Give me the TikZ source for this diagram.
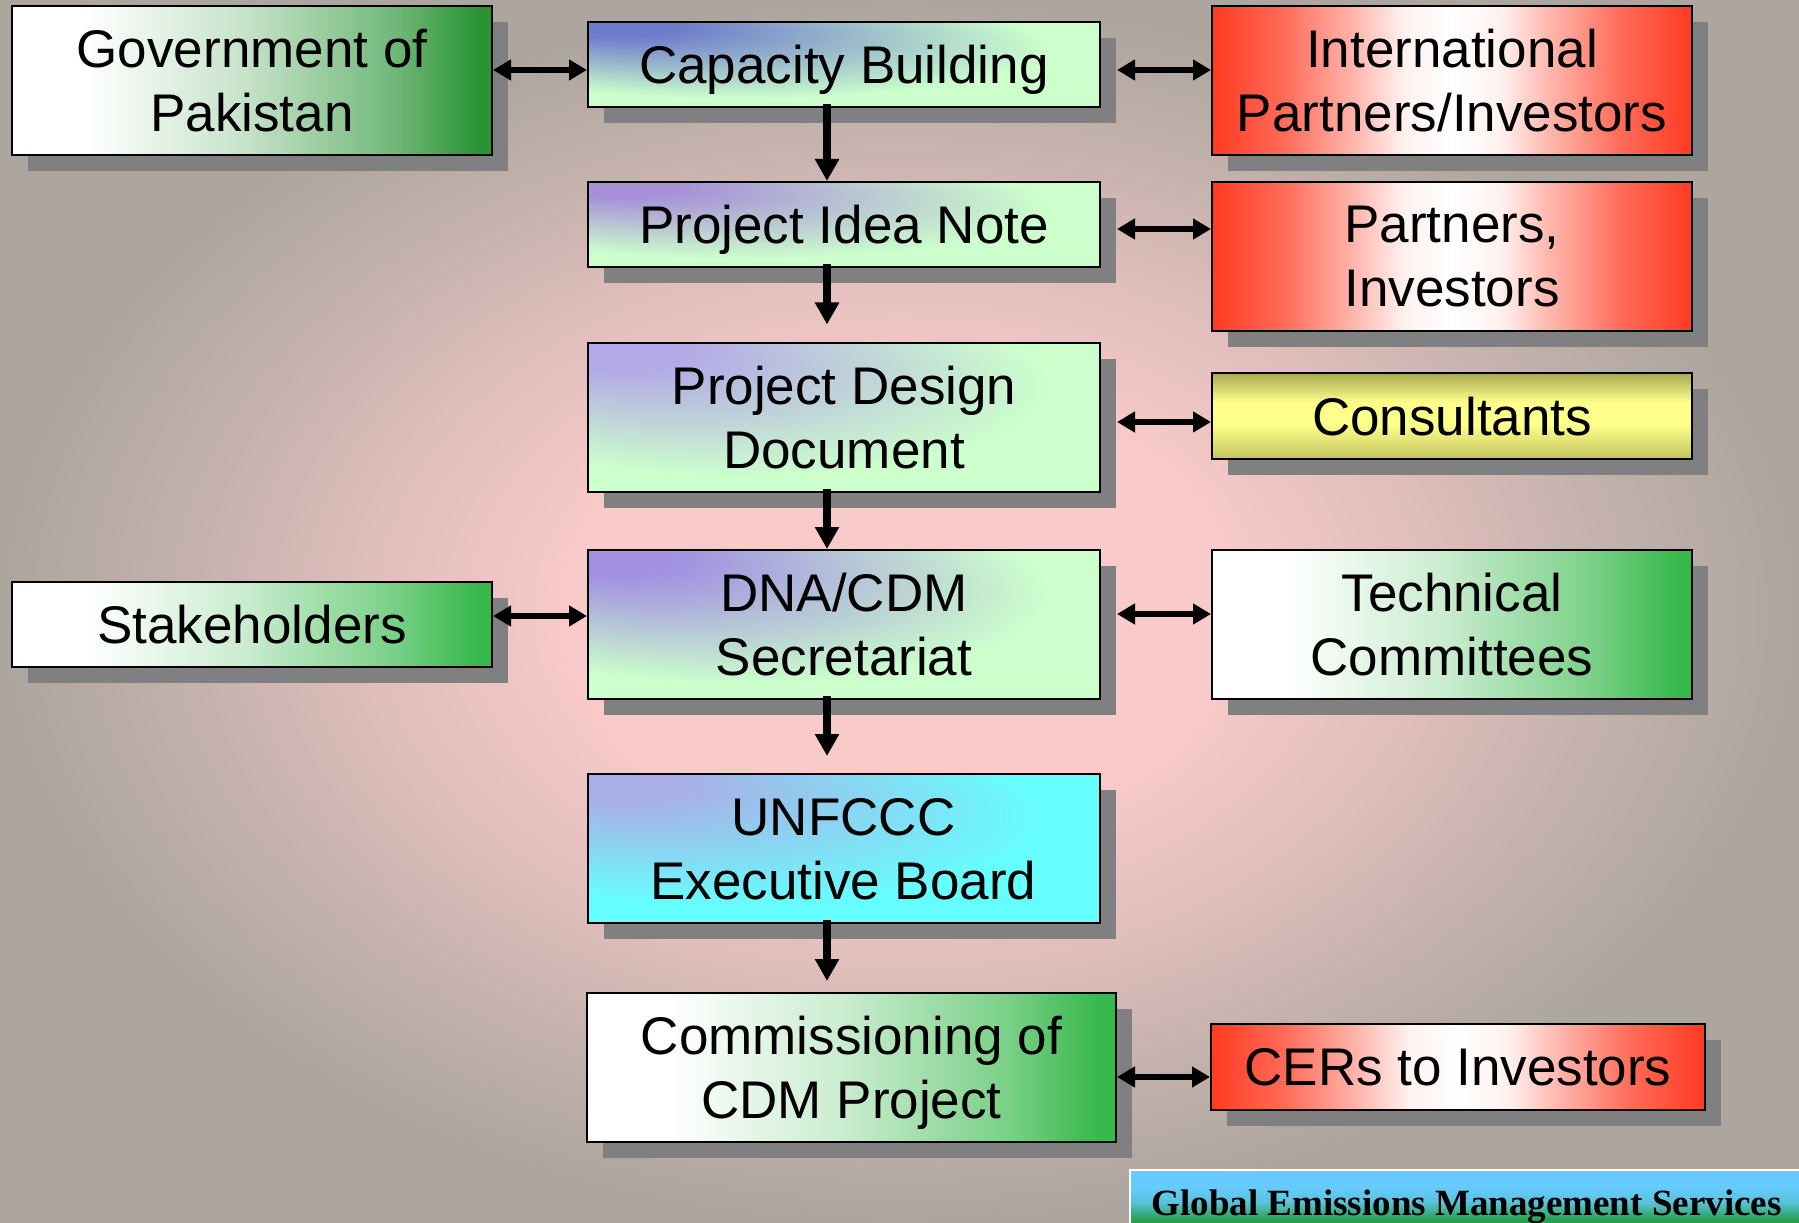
\documentclass[tikz,border=0pt]{standalone}
\usepackage{fontspec}
\setmainfont{Liberation Sans}
\newfontfamily\gemsfont{Liberation Serif}
\usetikzlibrary{arrows.meta,shadows}

\definecolor{bgpink}{RGB}{249,202,202}
\definecolor{bggray}{RGB}{172,166,158}
\definecolor{shadowgray}{RGB}{128,128,128}
\definecolor{mintgreen}{RGB}{204,255,204}
\definecolor{aqua}{RGB}{102,255,255}
\definecolor{govgreen}{RGB}{42,148,53}
\definecolor{leafgreen}{RGB}{54,184,74}
\definecolor{partnerred}{RGB}{255,58,34}
\definecolor{olivetop}{RGB}{168,168,82}
\definecolor{olivebot}{RGB}{196,196,96}
\definecolor{paleyellow}{RGB}{255,255,140}
\definecolor{skyblue}{RGB}{102,204,255}
\definecolor{bannergreen}{RGB}{40,160,80}
\colorlet{cornerc}{white}
\colorlet{basec}{white}
\colorlet{greenend}{white}

%background and box fills
\pgfdeclareradialshading{bgshade}{\pgfpointorigin}{color(0bp)=(bgpink); color(9bp)=(bgpink); color(15bp)=(bgpink!65!bggray); color(20bp)=(bgpink!30!bggray); color(25bp)=(bggray); color(50bp)=(bggray)}
\pgfdeclareradialshading[cornerc,basec]{cornershade}{\pgfpoint{-25bp}{25bp}}{color(0bp)=(cornerc); color(6bp)=(cornerc); color(30bp)=(basec); color(50bp)=(basec)}
\pgfdeclarehorizontalshading[greenend]{greenshade}{100bp}{color(0bp)=(white); color(32.5bp)=(white); color(49bp)=(greenend!26!white); color(65bp)=(greenend!67!white); color(73.5bp)=(greenend); color(100bp)=(greenend)}
\pgfdeclarehorizontalshading{redshade}{100bp}{color(0bp)=(partnerred); color(25bp)=(partnerred); color(32.5bp)=(partnerred!75!white); color(40bp)=(partnerred!36!white); color(45bp)=(partnerred!7!white); color(50bp)=(white); color(55bp)=(partnerred!7!white); color(60bp)=(partnerred!36!white); color(67.5bp)=(partnerred!75!white); color(75bp)=(partnerred); color(100bp)=(partnerred)}
\pgfdeclareverticalshading{yellowshade}{100bp}{color(0bp)=(olivebot); color(25bp)=(olivebot); color(45bp)=(paleyellow); color(58bp)=(paleyellow); color(75bp)=(olivetop); color(100bp)=(olivetop)}
\pgfdeclareverticalshading{bannershade}{100bp}{color(0bp)=(bannergreen); color(28bp)=(bannergreen); color(45bp)=(skyblue!80!bannergreen); color(60bp)=(skyblue); color(100bp)=(skyblue)}

\tikzset{every picture/.style={line width=0.75pt}}
\tikzset{
  box/.style={draw=black, line width=1.5pt, shade, align=center, inner sep=0pt, text depth=0pt,
    font=\fontsize{39.75}{48}\selectfont,
    drop shadow={shadow xshift=12pt, shadow yshift=-12pt, fill=shadowgray, opacity=1}},
  wide/.style={minimum width=360pt, minimum height=111.75pt},
  flat/.style={minimum width=360pt, minimum height=63.75pt},
  stepbox/.style={minimum width=384pt, minimum height=63.75pt},
  tallstep/.style={minimum width=384pt, minimum height=111.75pt},
  greenfill/.code={\colorlet{greenend}{#1}\pgfkeysalso{shading=greenshade}},
  cornerfill/.code 2 args={\colorlet{cornerc}{#1}\colorlet{basec}{#2}\pgfkeysalso{shading=cornershade}},
  redfill/.style={shading=redshade},
  yellowfill/.style={shading=yellowshade},
  biarrow/.style={line width=4.25pt, {Triangle[length=13.5pt,width=15pt]}-{Triangle[length=13.5pt,width=15pt]}},
  downarrow/.style={line width=6pt, shorten <=-3pt, -{Triangle[length=16.5pt,width=17.25pt]}}
}

\begin{document}
\begin{tikzpicture}[x=0.75pt,y=0.75pt,yscale=-1,xscale=1]
\useasboundingbox (0,0) rectangle (1799,1223);

%Shape: Background
\shade [shading=bgshade] (0,0) rectangle (1799,1223);

%Shape: Left column
\draw (252,80.5) node [box, wide, greenfill=govgreen] (gov) {Government of\\Pakistan};
\draw (252,624.5) node [box, flat, greenfill=leafgreen] (stake) {Stakeholders};

%Shape: Middle column
\draw (844,64.5) node [box, stepbox, cornerfill={rgb,255:red,110;green,125;blue,203}{mintgreen}] (cb) {Capacity Building};
\draw (844,224.5) node [box, stepbox, cornerfill={rgb,255:red,167;green,144;blue,216}{mintgreen}] (pin) {Project Idea Note};
\draw (844,417) node [box, tallstep, cornerfill={rgb,255:red,179;green,169;blue,230}{mintgreen}] (pdd) {Project Design\\Document};
\draw (844,624.5) node [box, tallstep, cornerfill={rgb,255:red,162;green,145;blue,225}{mintgreen}] (dna) {DNA/CDM\\Secretariat};
\draw (843.5,848.5) node [box, tallstep, cornerfill={rgb,255:red,169;green,175;blue,230}{aqua}] (unfccc) {UNFCCC\\Executive Board};
\draw (851.5,1067.5) node [box, tallstep, minimum width=396.75pt, greenfill=leafgreen] (comm) {Commissioning of\\CDM Project};

%Shape: Right column
\draw (1452,80.5) node [box, wide, redfill] (intl) {International\\Partners/Investors};
\draw (1452,256.5) node [box, wide, redfill] (partners) {Partners,\\Investors};
\draw (1452,416) node [box, flat, minimum height=64.5pt, yellowfill] (consult) {Consultants};
\draw (1452,624.5) node [box, wide, greenfill=leafgreen] (tech) {Technical\\Committees};
\draw (1458,1067) node [box, minimum width=370.5pt, minimum height=64.5pt, redfill] (cers) {CERs to Investors};

%Straight Lines
\coordinate (spine) at (827,0);
\draw [downarrow] (cb.south -| spine) -- (pin.north -| spine);
\draw [downarrow, shorten >=12.75pt] (pin.south -| spine) -- (pdd.north -| spine);
\draw [downarrow] (pdd.south -| spine) -- (dna.north -| spine);
\draw [downarrow, shorten >=12.75pt] (dna.south -| spine) -- (unfccc.north -| spine);
\draw [downarrow, shorten >=8.25pt] (unfccc.south -| spine) -- (comm.north -| spine);

%Straight Lines
\draw [biarrow] (gov.east |- 0,70) -- (cb.west |- 0,70);
\draw [biarrow, shorten <=12pt] (cb.east |- 0,70) -- (intl.west |- 0,70);
\draw [biarrow, shorten <=12pt] (pin.east |- 0,229) -- (partners.west |- 0,229);
\draw [biarrow, shorten <=12pt] (pdd.east |- 0,422) -- (consult.west |- 0,422);
\draw [biarrow] (stake.east |- 0,616) -- (dna.west |- 0,616);
\draw [biarrow, shorten <=12pt] (dna.east |- 0,614) -- (tech.west |- 0,614);
\draw [biarrow] (comm.east |- 0,1077) -- (cers.west |- 0,1077);

%Shape: Banner
\shade [shading=bannershade] (1130,1170) rectangle (1799,1223);
\draw [white, line width=1.5pt] (1130,1223) -- (1130,1170) -- (1799,1170);
% Text Node
\draw (1466.5,1215) node [anchor=base, inner sep=0pt, font=\gemsfont\bfseries\fontsize{27.75}{30}\selectfont] (gems) {Global Emissions Management Services};

\end{tikzpicture}
\end{document}
